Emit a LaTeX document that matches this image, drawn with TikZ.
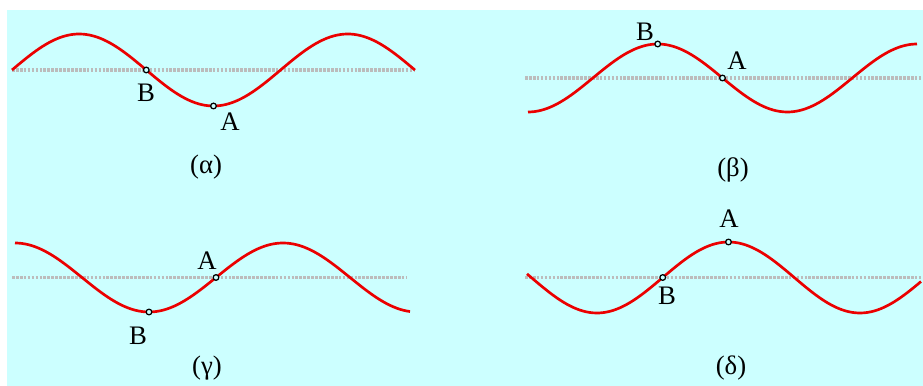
\documentclass[tikz,border=0pt]{standalone}
\usepackage{fontspec}
\setmainfont{Liberation Serif}
\usepackage{tikz}
\usetikzlibrary{positioning}
\definecolor{bgcyan}{RGB}{204,255,255}
\definecolor{axisgray}{RGB}{188,188,188}
\definecolor{wavered}{RGB}{235,0,0}
\tikzset{
	wave/.style={wavered, line width=1.9pt},
	axisline/.style={axisgray, line width=2.3pt, dash pattern=on 1.9pt off 0.9pt},
	wavept/.style={circle, draw=black, fill=bgcyan, line width=0.9pt, inner sep=0pt, minimum size=4pt},
	lab/.style={font=\fontsize{19}{22}\selectfont, inner sep=0pt}
}

\begin{document}
\begin{tikzpicture}[x=0.025cm, y=-0.025cm]
			\useasboundingbox (0,0) rectangle (923,386);
			\fill[bgcyan] (7,10) rectangle (923,386);
			
			% (alpha)
			\draw[axisline] (12,70) -- (415,70);
			\draw[wave] plot[domain=12:415, samples=120, smooth] (\x, {70-36*sin((\x-12)/134.3*180)});
			\node[wavept] (alphaB) at (146.3,70) {};
			\node[wavept] (alphaA) at (213.5,106) {};
			\node[lab] (alphaBlab) at (146,93) {B};
			\node[lab] (alphaAlab) at (230,122) {A};
			\node[lab] (alphacap) at (206,167) {(α)};
			
			% (beta)
			\draw[axisline] (525,78) -- (922,78);
			\draw[wave] plot[domain=528:917, samples=120, smooth] (\x, {78+34*cos((\x-528)/129.7*180)});
			\node[wavept] (betaB) at (657.7,44) {};
			\node[wavept] (betaA) at (722.5,78) {};
			\node[lab] (betaBlab) at (645,32) {B};
			\node[lab] (betaAlab) at (737,61) {A};
			\node[lab] (betacap) at (733,170) {(β)};
			
			% (gamma)
			\draw[axisline] (12,277.5) -- (406,277.5);
			\draw[wave] plot[domain=15:410, samples=120, smooth] (\x, {277.5-34.5*cos((\x-15)/134*180)});
			\node[wavept] (gammaB) at (149,312) {};
			\node[wavept] (gammaA) at (216,277.5) {};
			\node[lab] (gammaBlab) at (138,336) {B};
			\node[lab] (gammaAlab) at (207,261) {A};
			\node[lab] (gammacap) at (207,368) {(γ)};
			
			% (delta)
			\draw[axisline] (525,277.5) -- (921,277.5);
			\draw[wave] plot[domain=527:921, samples=120, smooth] (\x, {277.5+35.5*cos((\x-597)/131.5*180)});
			\node[wavept] (deltaB) at (662.75,277.5) {};
			\node[wavept] (deltaA) at (728.5,242) {};
			\node[lab] (deltaBlab) at (667,296) {B};
			\node[lab] (deltaAlab) at (729,219) {A};
			\node[lab] (deltacap) at (731,368) {(δ)};
		\end{tikzpicture}
\end{document}
